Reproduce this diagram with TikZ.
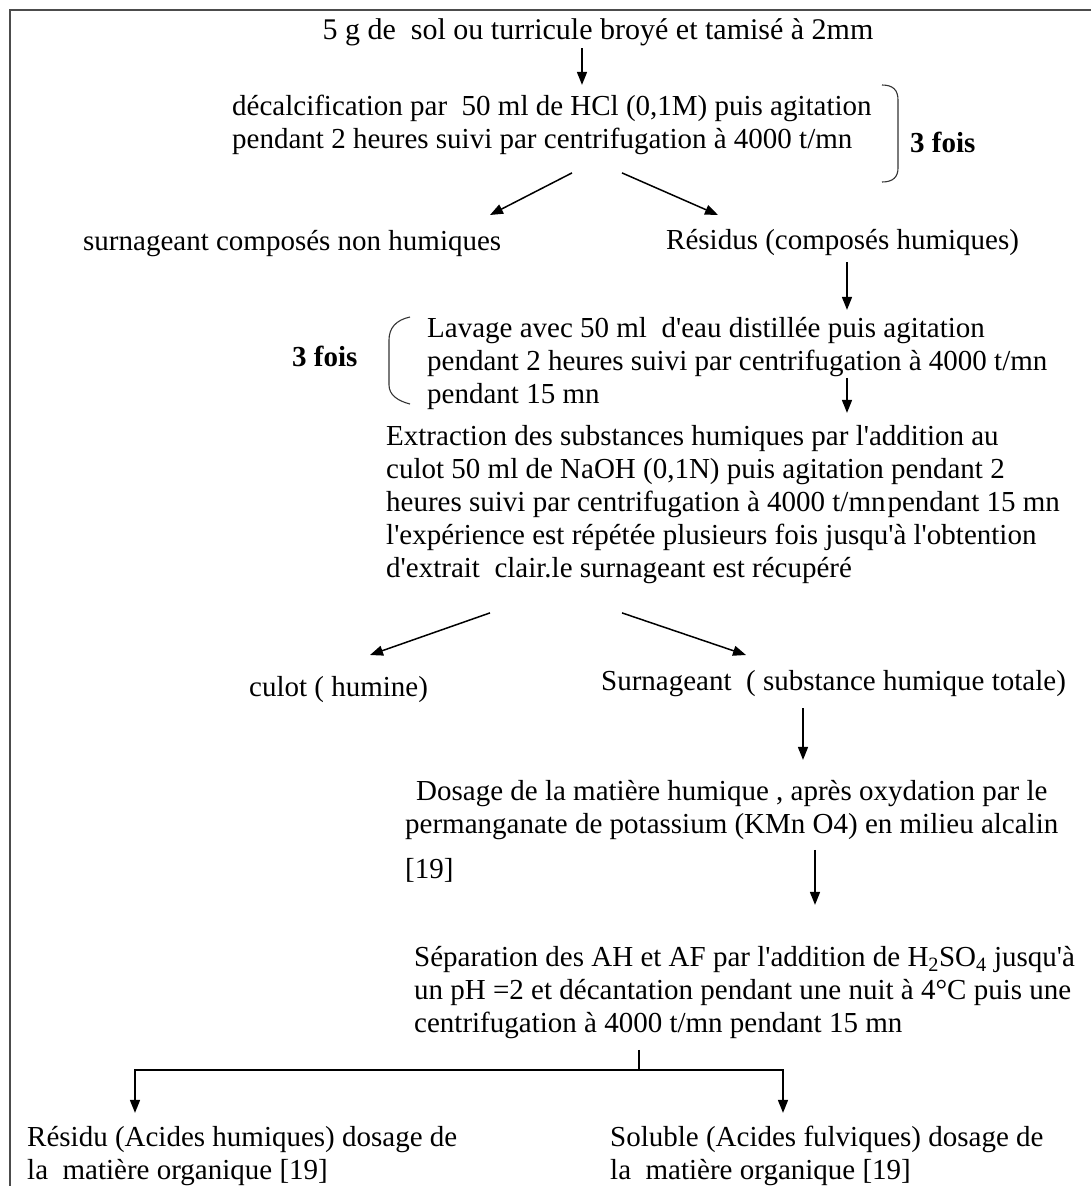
\documentclass[tikz,border=0pt]{standalone}
\usepackage{fontspec}
\setmainfont{Liberation Serif}[Ligatures=TeXOff]
\usetikzlibrary{arrows.meta}
\begin{document}
\begin{tikzpicture}[x=1pt,y=-1pt,
  txt/.style={inner sep=0pt, font=\fontsize{29}{33}\selectfont},
  blk/.style={txt, align=left, anchor=north west},
  lbl/.style={txt, anchor=base west},
  boldlbl/.style={lbl, font=\fontsize{29}{33}\selectfont\bfseries},
  arr/.style={line width=1.5pt, -{Triangle[length=13pt,width=10pt]}},
  plain/.style={line width=1.5pt},
  brc/.style={line width=1.1pt, black!80},
  frm/.style={line width=2pt, black!70}]
\useasboundingbox (0,0) rectangle (1091,1186);
% frame
\draw[frm] (10,1186) -- (10,10) -- (1091,10);

% nodes
\node[txt, anchor=base, font=\fontsize{30}{33}\selectfont] (top) at (598,39) {5 g de~ sol ou turricule broyé et tamisé à 2mm};
\node[blk] (dec) at (232,91.9) {\strut décalcification par~ 50 ml de HCl (0,1M) puis agitation\\pendant 2 heures suivi par centrifugation à 4000 t/mn\strut};
\node[boldlbl] (f1) at (910,152) {3 fois};
\node[lbl] (surn) at (83,250) {surnageant composés non humiques};
\node[lbl] (res) at (666,249) {Résidus (composés humiques)};
\node[blk] (lav) at (427,313.9) {\strut Lavage avec 50 ml~ d'eau distillée puis agitation\\pendant 2 heures suivi par centrifugation à 4000 t/mn\\pendant 15 mn\strut};
\node[boldlbl] (f2) at (292,366) {3 fois};
\node[blk] (ext) at (386,421.9) {\strut Extraction des substances humiques par l'addition au\\culot 50 ml de NaOH (0,1N) puis agitation pendant 2\\heures suivi par centrifugation à 4000 t/mn\hspace{2pt}pendant 15 mn\\l'expérience est répétée plusieurs fois jusqu'à l'obtention\\d'extrait~ clair.le surnageant est récupéré\strut};
\node[lbl] (cul) at (249,696) {culot ( humine)};
\node[lbl] (sur2) at (601,690) {Surnageant~ ( substance humique totale)};
\node[blk] (dos) at (405,776.9) {\strut\hspace*{11pt}Dosage de la matière humique , après oxydation par le\\permanganate de potassium (KMn O4) en milieu alcalin\strut};
\node[lbl] (ref1) at (405,878) {[19]};
\node[blk] (sep) at (414,942.9) {\strut Séparation des AH et AF par l'addition de H\textsubscript{2}SO\textsubscript{4} jusqu'à\\un pH =2 et décantation pendant une nuit à 4°C puis une\\centrifugation à 4000 t/mn pendant 15 mn\strut};
\node[blk] (resi) at (27,1122.9) {\strut Résidu (Acides humiques) dosage de\\la~ matière organique [19]\strut};
\node[blk] (sol) at (610,1122.9) {\strut Soluble (Acides fulviques) dosage de\\la~ matière organique [19]\strut};

% braces
\draw[brc] (882,85) .. controls (893,85) and (898,90) .. (898,100) -- (898,168)
  .. controls (898,177) and (893,182) .. (882,182);
\draw[brc] (410,317) .. controls (396,320) and (389,328) .. (389,340) -- (389,385)
  .. controls (389,395) and (398,401) .. (410,404);

% connectors
\draw[arr] ([xshift=-16pt,yshift=-9pt]top.base) -- ([xshift=350pt,yshift=7pt]dec.north west);
\draw[arr] ([xshift=340pt,yshift=-81pt]dec.north west) -- ([xshift=407pt,yshift=35pt]surn.base west);
\draw[arr] ([xshift=390pt,yshift=-81pt]dec.north west) -- ([xshift=52pt,yshift=34pt]res.base west);
\draw[arr] ([xshift=181pt,yshift=-13pt]res.base west) -- ([xshift=420pt,yshift=4pt]lav.north west);
\draw[arr] ([xshift=420pt,yshift=-64pt]lav.north west) -- ([xshift=461pt,yshift=9pt]ext.north west);
\draw[arr] ([xshift=104pt,yshift=-191pt]ext.north west) -- ([xshift=121pt,yshift=41pt]cul.base west);
\draw[arr] ([xshift=236pt,yshift=-191pt]ext.north west) -- ([xshift=145pt,yshift=35pt]sur2.base west);
\draw[arr] ([xshift=202pt,yshift=-18pt]sur2.base west) -- ([xshift=398pt,yshift=17pt]dos.north west);
\draw[arr] ([xshift=410pt,yshift=-73pt]dos.north west) -- ([xshift=401pt,yshift=38pt]sep.north west);
\draw[plain] ([xshift=225pt,yshift=-107pt]sep.north west) -- ++(0,20) coordinate (j);
\draw[arr] (j) -| ([xshift=108pt,yshift=10pt]resi.north west);
\draw[arr] (j) -| ([xshift=173pt,yshift=10pt]sol.north west);
\end{tikzpicture}
\end{document}
